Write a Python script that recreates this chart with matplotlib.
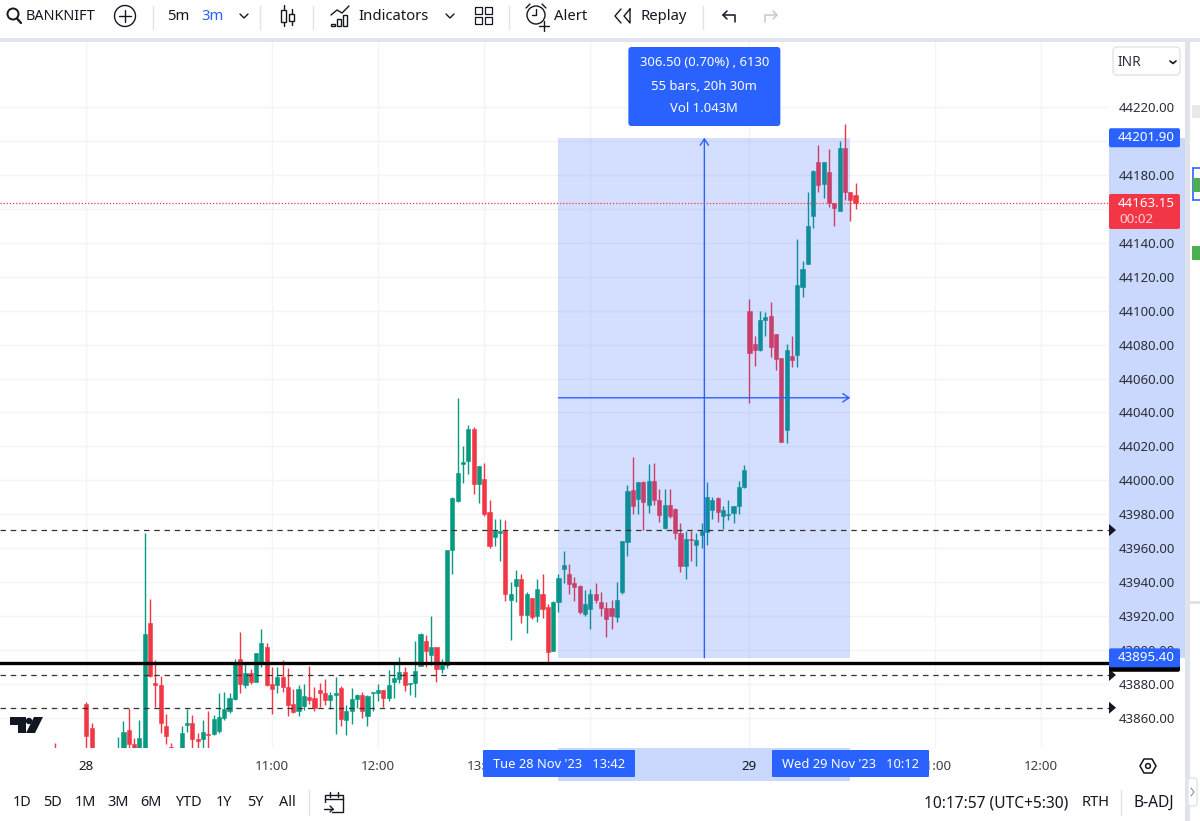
"""TradingView style BANKNIFTY 3m candlestick chart with a price range measure."""
import matplotlib
matplotlib.use('Agg')
import matplotlib.pyplot as plt
from matplotlib.patches import Circle, FancyBboxPatch, Polygon, Rectangle

plt.rcParams['font.family'] = ['Noto Sans', 'DejaVu Sans']

# ------------------------------------------------------------------
#  Data (bar number from the left, prices in INR)
# ------------------------------------------------------------------
bar_index = [0, 6, 7] + list(range(12, 152))

opens = [
    43838, 43868, 43854, 43832, 43836, 43852.8, 43844.6, 43836, 43836, 43915.7,
    43880.3, 43879.5, 43855.2, 43842.8, 43836, 43836, 43856, 43857.3, 43847.7, 43847.3,
    43850.7, 43850.5, 43852.4, 43859.9, 43863.8, 43871, 43895, 43879.5, 43886.2, 43881.3,
    43893.1, 43901.7, 43880, 43879.2, 43883.9, 43878.4, 43868, 43864, 43867.1, 43872.1,
    43871.5, 43876.4, 43874.6, 43870.7, 43873.6, 43877.4, 43858.9, 43863.8, 43871.1, 43873.6,
    43861.2, 43874.6, 43874.8, 43876.4, 43871.9, 43881.3, 43882.9, 43886.8, 43879.9, 43880.3,
    43890.7, 43905.1, 43896.8, 43901.7, 43889, 43891.1, 43958.9, 43988, 44009.8, 44011.4,
    44030, 43998, 44000.7, 43981.1, 43966.6, 43969.1, 43969.9, 43929.2, 43937.9, 43941.6,
    43920.8, 43930.4, 43920.2, 43932.8, 43925.3, 43899.6, 43928.3, 43948, 43945, 43939.3,
    43937.7, 43921.2, 43924.4, 43932.8, 43928.1, 43924.8, 43924.8, 43919.7, 43934.4, 43963.9,
    43994.1, 43988.8, 43999.2, 43985.7, 43999.4, 43988.6, 43971.9, 43985.5, 43983.3, 43969,
    43949.5, 43965.5, 43962.1, 43968, 43969.8, 43982.7, 43989.6, 43979.2, 43979.6, 43981,
    43984.7, 43996.3, 44099.9, 44080.3, 44076.7, 44094.2, 44096.8, 44086.2, 44071.8, 44029.6,
    44073.2, 44073.8, 44113.9, 44127.6, 44155.7, 44187.4, 44174.6, 44181.9, 44163.2, 44158.7,
    44195.8, 44170.1, 44168.1,
]
highs = [
    43845, 43869.3, 43856.8, 43849, 43857.9, 43866, 43847.9, 43858.7, 43968.7, 43930,
    43894, 43884.8, 43862.6, 43845, 43842, 43855, 43865.2, 43861.7, 43850.9, 43858.7,
    43864.2, 43862, 43874.4, 43875, 43874.4, 43895, 43910.4, 43892, 43888.6, 43898.4,
    43912.2, 43903.9, 43890.2, 43890.2, 43893.9, 43889.2, 43877, 43879.3, 43879.9, 43890.7,
    43878.3, 43880.3, 43882.7, 43875, 43884.2, 43879.1, 43867.5, 43877.4, 43874, 43875.4,
    43873.6, 43875.2, 43880.1, 43876.4, 43888.2, 43892.1, 43896, 43890.1, 43880.7, 43905.3,
    43909.8, 43908.8, 43920, 43901.9, 43895, 43958.9, 43989.9, 44048.3, 44020.2, 44032.6,
    44031.2, 44008.4, 44010.4, 43988.4, 43977, 43977, 43976.6, 43939.9, 43947.1, 43945.1,
    43934.3, 43930.4, 43941.6, 43945.1, 43926.9, 43929, 43944.6, 43958.4, 43950.5, 43943,
    43938.1, 43935.2, 43936, 43939.3, 43934, 43928.1, 43929.5, 43940.3, 43964.3, 43997.3,
    44013.6, 43999.2, 43999.8, 44009.7, 44010, 43995.1, 43995.1, 43994.7, 43983.9, 43974.7,
    43970, 43970, 43968.8, 43974.7, 43998.8, 43990.4, 43990, 43984.9, 43988.2, 43984.9,
    43999.4, 44009, 44106.8, 44085, 44099.9, 44099.3, 44105.2, 44086.2, 44071.8, 44080.3,
    44085, 44142, 44129.2, 44170.1, 44182.8, 44197.6, 44187.4, 44195.2, 44163.6, 44199.9,
    44209.8, 44170.1, 44175,
]
lows = [
    43828, 43838, 43832, 43830, 43832, 43841, 43832, 43832, 43832, 43884,
    43866.2, 43851.4, 43844.6, 43832, 43832, 43832, 43851.8, 43841.5, 43838, 43841.5,
    43842, 43849.9, 43851, 43858.7, 43863, 43870.4, 43874.8, 43877.8, 43879.7, 43881,
    43890.2, 43879, 43862.6, 43874.4, 43875.4, 43861.3, 43862.8, 43861, 43864.6, 43868,
    43864.2, 43866.6, 43867.5, 43865.2, 43850.8, 43855.2, 43849.9, 43856.3, 43865.6, 43860.1,
    43855.2, 43864.2, 43870.1, 43866.2, 43870.1, 43871.5, 43880.3, 43875.8, 43873.4, 43872.5,
    43890.5, 43890.1, 43891.1, 43881.3, 43886.2, 43889.7, 43944.8, 43987.4, 43998.6, 44003.7,
    43992.1, 43986.4, 43979, 43959.9, 43961.6, 43952.6, 43929, 43906.2, 43928.4, 43915.7,
    43910.2, 43918.2, 43916.7, 43918.6, 43893.1, 43899.6, 43922.4, 43939.3, 43933, 43928.7,
    43921.2, 43920.1, 43912.2, 43927.5, 43920.1, 43907.9, 43912.6, 43916.5, 43933, 43955.4,
    43980.2, 43980.2, 43970.8, 43981, 43985.5, 43975.5, 43971.1, 43978, 43965.3, 43946,
    43942, 43952.7, 43949.5, 43960.1, 43962.1, 43977, 43975.7, 43971.1, 43976.7, 43975.1,
    43980.4, 43995.7, 44045.7, 44067.5, 44076.3, 44085, 44072.8, 44065, 44022.7, 44022.1,
    44066.9, 44066.9, 44108.2, 44127.6, 44148.5, 44170.1, 44166.1, 44161.2, 44150, 44158.7,
    44165.2, 44152.8, 44160,
]
closes = [
    43832, 43849.3, 43836, 43838, 43851.8, 43844.6, 43836, 43848.1, 43909.4, 43884.7,
    43879.5, 43857.1, 43849.3, 43836, 43838, 43851.4, 43857.3, 43847.7, 43846.3, 43851.8,
    43850.1, 43859.3, 43860.5, 43865.2, 43871.7, 43893, 43880, 43886.2, 43881.1, 43898,
    43904.1, 43879.5, 43877.2, 43883.9, 43878.4, 43867.6, 43863.6, 43877, 43873, 43870.7,
    43865.6, 43874.4, 43870.7, 43873.6, 43874.4, 43859.1, 43863.8, 43870.9, 43873.6, 43864.2,
    43873, 43875.2, 43876.4, 43871.9, 43879.5, 43883.3, 43886.8, 43879.5, 43880.5, 43887.4,
    43909.2, 43899.4, 43901.7, 43889, 43891.1, 43958.9, 43989.5, 44004.5, 44011, 44030,
    43998, 44008.2, 43979.9, 43961.3, 43969.9, 43969.9, 43932.8, 43933.2, 43941.6, 43920.8,
    43932.8, 43919.6, 43935.7, 43923.9, 43899, 43928.4, 43942.5, 43949.9, 43938.9, 43937.2,
    43922.4, 43927, 43932.8, 43929.5, 43924.6, 43918.5, 43920.3, 43929.5, 43964.3, 43993.9,
    43985.1, 43998.8, 43987.3, 43999.8, 43988.4, 43979.8, 43985.5, 43979.2, 43969.2, 43949.5,
    43965.3, 43964.9, 43964.7, 43970, 43990.2, 43988.4, 43981.6, 43982.3, 43980.2, 43984.9,
    43996.1, 44006.1, 44075.2, 44077.1, 44094.4, 44096, 44078.3, 44071.4, 44022.7, 44076.6,
    44071.2, 44115.4, 44124.5, 44150, 44182.4, 44174, 44187.4, 44163.6, 44160.6, 44195.8,
    44169.7, 44165.2, 44163.15,
]

price_ticks = list(range(43860, 44221, 20))
hidden_price_labels = [44160, 44200]  # sit under the last price and measure labels
time_ticks = [6, 41, 61, 81, 101, 131, 166, 186]
time_labels = ['28', '11:00', '12:00', '13:00', '', '29', '11:00', '12:00']

last_price = 44163.15
measure_low = 43895.40
measure_high = 44201.90
measure_start, measure_end = 95, 150
support_line = 43892.2
dashed_levels = [43970.7, 43885.3, 43866.0]

range_buttons = ['1D', '5D', '1M', '3M', '6M', 'YTD', '1Y', '5Y', 'All']
range_positions = [22, 53, 85, 118, 151, 188, 224, 255, 287]

UP = '#089981'
DOWN = '#f23645'
BLUE = '#2962ff'
TEXT = '#131722'
GRID = '#f3f4f6'
BAND = '#e0e3eb'
W, H = 1200, 821

# chart rectangle in pixels and the bar/price scale
LEFT, RIGHT, TOP, BOTTOM = 0, 1109, 42, 748
X0, BAR_PX = 54.5, 5.305
Y220, PRICE_PX = 107, 1.697


def make_axes(fig, zorder):
    a = fig.add_axes([0, 0, 1, 1], zorder=zorder)
    a.set_xlim(0, W)
    a.set_ylim(H, 0)
    a.axis('off')
    return a


def label(a, x, y, s, size=10.7, color=TEXT, ha='center', **kw):
    a.text(x, y, s, fontsize=size, color=color, ha=ha, va='center', **kw)


def box(a, x0, y0, x1, y1, color, r=2, ec='none', lw=0, z=3):
    a.add_patch(FancyBboxPatch((x0 + r, y0 + r), x1 - x0 - 2 * r, y1 - y0 - 2 * r,
                               boxstyle=f'round,pad={r},rounding_size={r}',
                               fc=color, ec=ec, lw=lw, zorder=z))


def stroke(a, xs, ys, color=TEXT, lw=1.0, z=4):
    a.plot(xs, ys, color=color, lw=lw, solid_capstyle='round', zorder=z)


fig = plt.figure(figsize=(W / 100, H / 100), dpi=100, facecolor='white')

# ------------------------------------------------------------------
#  Chart pane
# ------------------------------------------------------------------
ax = fig.add_axes([LEFT / W, 1 - BOTTOM / H, (RIGHT - LEFT) / W, (BOTTOM - TOP) / H], zorder=2)
ax.patch.set_alpha(0)
ax.set_xlim((LEFT - X0) / BAR_PX, (RIGHT - X0) / BAR_PX)
ax.set_ylim(44220 - (BOTTOM - Y220) / PRICE_PX, 44220 + (Y220 - TOP) / PRICE_PX)
for s in ax.spines.values():
    s.set_visible(False)

ax.set_yticks(price_ticks, ['' if p in hidden_price_labels else f'{p:.2f}' for p in price_ticks])
ax.yaxis.tick_right()
ax.tick_params(axis='y', length=0, pad=7, labelsize=9.5, labelcolor='#2a2e39')
ax.set_xticks(time_ticks, time_labels)
ax.tick_params(axis='x', length=0, pad=8.5, labelsize=9.6, labelcolor='#3a3e49')
for t in ax.get_xticklabels():
    if t.get_text() in ('28', '29'):
        t.set_color(TEXT)
        t.set_fontweight('medium')
ax.grid(True, color=GRID, lw=1.0, zorder=0)
ax.set_axisbelow(True)

# candles
for k, o, h, l, c in zip(bar_index, opens, highs, lows, closes):
    col = UP if c >= o else DOWN
    ax.vlines(k, l, h, color=col, lw=1.0, zorder=2)
    ax.bar(k, abs(c - o), bottom=min(o, c), width=0.78, color=col, edgecolor=col, lw=0.4, zorder=3)

# measure tool, sits over the candles and tints them
ax.add_patch(Rectangle((measure_start, measure_low), measure_end - measure_start,
                       measure_high - measure_low, fc=BLUE, alpha=0.2, ec='none', zorder=4))
mid_bar = (measure_start + measure_end) / 2
mid_price = (measure_low + measure_high) / 2
ax.annotate('', xy=(mid_bar, measure_high), xytext=(mid_bar, measure_low), zorder=5,
            arrowprops=dict(arrowstyle='->,head_length=0.45,head_width=0.3', color=BLUE, lw=1.0,
                            shrinkA=0, shrinkB=0))
ax.annotate('', xy=(measure_end, mid_price), xytext=(measure_start, mid_price), zorder=5,
            arrowprops=dict(arrowstyle='->,head_length=0.45,head_width=0.3', color=BLUE, lw=1.0,
                            shrinkA=0, shrinkB=0))

# horizontal levels
ax.axhline(last_price, color=DOWN, lw=0.9, ls=(0, (1, 1.5)), zorder=5)
for lvl in dashed_levels:
    ax.axhline(lvl, color='#333333', lw=0.9, ls=(0, (4.4, 3.8)), zorder=6)
ax.axhline(support_line, color='black', lw=2.4, zorder=7)


def bar_x(k):
    return ax.transData.transform((k, 0))[0]


def price_y(p):
    return H - ax.transData.transform((0, p))[1]


# ------------------------------------------------------------------
#  Background: page bands and highlighted parts of the axes
# ------------------------------------------------------------------
bg = make_axes(fig, 1)
bg.add_patch(Rectangle((0, 38), W, 4, fc=BAND, ec='none'))
bg.add_patch(Rectangle((1185, 38), 5, H, fc=BAND, ec='none'))
bg.add_patch(Rectangle((RIGHT, price_y(measure_high)), 1185 - RIGHT,
                       price_y(measure_low) - price_y(measure_high), fc='#c9d8fc', ec='none'))
bg.add_patch(Rectangle((bar_x(measure_start), BOTTOM), bar_x(measure_end) - bar_x(measure_start),
                       781 - BOTTOM, fc='#c9d8fc', ec='none'))
# strip of the neighbouring panel
bg.add_patch(Rectangle((1192, 105), 8, 13, fc='#e8e8ec', ec='none'))
bg.add_patch(Rectangle((1192.5, 168), 8, 32, fc='white', ec=BLUE, lw=1.2))
bg.add_patch(Rectangle((1193, 178), 7, 14, fc='#4caf50', ec='none'))
bg.add_patch(Rectangle((1192, 246), 8, 14, fc='#4caf50', ec='none'))
bg.add_patch(Rectangle((1190, 601), 10, 3, fc=BAND, ec='none'))

# ------------------------------------------------------------------
#  Overlay: price and time labels, tooltip, toolbars
# ------------------------------------------------------------------
top = make_axes(fig, 3)

y = price_y(measure_high)
box(top, RIGHT, y - 9.5, 1180, y + 9.5, BLUE)
label(top, 1175, y, f'{measure_high:.2f}', 9.6, 'white', ha='right')
y = price_y(last_price)
box(top, RIGHT, y - 9.5, 1180, y + 25.5, DOWN)
label(top, 1175, y, f'{last_price:.2f}', 9.6, 'white', ha='right')
label(top, 1119, y + 16.5, '00:02', 9.6, '#ffd5da', ha='left')
y = price_y(support_line)
box(top, RIGHT, y - 8, 1180, y + 8.5, 'black')
y = price_y(measure_low)
box(top, RIGHT, y - 9.5, 1180, y + 9.5, BLUE)
label(top, 1175, y, f'{measure_low:.2f}', 9.6, 'white', ha='right')
for lvl in dashed_levels:
    y = price_y(lvl)
    top.add_patch(Polygon([(RIGHT, y - 6), (RIGHT + 7, y), (RIGHT, y + 6)], fc=TEXT, ec='none'))

# measure tooltip
mx = bar_x(mid_bar)
box(top, mx - 76, 47, mx + 76, 126, BLUE, r=3)
label(top, mx, 63, '306.50 (0.70%) , 6130', 9.4, 'white')
label(top, mx, 87, '55 bars, 20h 30m', 9.4, 'white')
label(top, mx, 109, 'Vol 1.043M', 9.4, 'white')

# time axis labels of the measure
box(top, 483, 750, 635, 777, BLUE, r=1)
label(top, 559, 765, "Tue 28 Nov '23   13:42", 9.3, 'white')
box(top, 772, 750, 929, 777, BLUE, r=1)
label(top, 850, 765, "Wed 29 Nov '23   10:12", 9.3, 'white')

# currency drop-down
box(top, 1113, 47, 1180, 75, 'white', r=4, ec=BAND, lw=1)
label(top, 1118, 62, 'INR', 9.8, '#2a2e39', ha='left')
stroke(top, [1170, 1173, 1176], [61, 63.5, 61], lw=1.2)

# TradingView mark
top.add_patch(Polygon([(10, 717), (26, 717), (26, 733), (18, 733), (18, 725), (10, 725)], fc=TEXT, ec='none'))
top.add_patch(Circle((29, 721), 3.2, fc=TEXT, ec='none'))
top.add_patch(Polygon([(34, 717), (43, 717), (35, 733), (26, 733)], fc=TEXT, ec='none'))

# hexagon settings icon
top.add_patch(Polygon([(1140, 766), (1144, 759), (1152, 759), (1156, 766), (1152, 773), (1144, 773)],
                      fc='none', ec=TEXT, lw=1.1))
top.add_patch(Circle((1148, 766), 2.4, fc='none', ec=TEXT, lw=1.1))

# top toolbar: separators
for x in (153, 260, 313, 509, 703):
    top.plot([x, x], [6, 29], color=BAND, lw=1)

# symbol search
top.add_patch(Circle((13, 14), 5.5, fc='none', ec=TEXT, lw=1.4))
stroke(top, [17, 21], [18.5, 23], lw=1.6)
sym = top.text(26, 16, 'BANKNIFTY', fontsize=10.4, color=TEXT, ha='left', va='center', fontweight='semibold')
sym.set_clip_path(Rectangle((0, 0), 94.5, H, transform=top.transData))
sym.set_clip_on(True)

# add symbol
top.add_patch(Circle((125, 16), 10.5, fc='none', ec=TEXT, lw=1.0))
stroke(top, [119, 131], [16, 16])
stroke(top, [125, 125], [10, 22])

label(top, 178, 16, '5m')
label(top, 212, 16, '3m', color=BLUE)
stroke(top, [240, 244, 248], [14, 18, 14], lw=1.0)

# candle icon
stroke(top, [283.5, 283.5], [5, 26])
top.add_patch(Rectangle((281, 10), 5, 12, fc='white', ec=TEXT, lw=1.0, zorder=5))
stroke(top, [291.5, 291.5], [9, 25])
top.add_patch(Rectangle((289, 14), 5, 7, fc='white', ec=TEXT, lw=1.0, zorder=5))

# indicators icon
stroke(top, [331, 337, 342, 349], [15, 10, 13, 6])
for bx, by in zip((331, 337, 343), (30 - 6, 30 - 11, 30 - 15)):
    top.add_patch(Rectangle((bx, by), 4, 26 - by, fc='none', ec=TEXT, lw=1.0))
label(top, 358, 16, 'Indicators', ha='left')
stroke(top, [446, 450, 454], [14, 18, 14])

# layouts icon
for cx in (478, 488):
    for cy in (11, 21):
        top.add_patch(Rectangle((cx - 3.5, cy - 3.5), 7, 7, fc='none', ec=TEXT, lw=0.9))

# alert icon
top.add_patch(Circle((536, 15), 9, fc='none', ec=TEXT, lw=1.0))
stroke(top, [536, 536, 532], [9, 15, 15])
stroke(top, [526, 530], [8, 4])
stroke(top, [542, 546], [4, 8])
stroke(top, [544, 544], [21, 31])
stroke(top, [539, 549], [26, 26])
label(top, 554, 16, 'Alert', ha='left')

# replay icon
stroke(top, [621, 615, 621], [9, 16, 23])
stroke(top, [630, 624, 630, 630], [9, 16, 23, 9])
label(top, 640, 16, 'Replay', ha='left')

# undo, redo
stroke(top, [735, 735, 723], [22, 15, 15], lw=1.1)
stroke(top, [727, 723, 727], [11, 15, 19], lw=1.1)
stroke(top, [765, 765, 777], [22, 15, 15], color='#c4c8d0', lw=1.1)
stroke(top, [773, 777, 773], [11, 15, 19], color='#c4c8d0', lw=1.1)

# bottom toolbar
for name, x in zip(range_buttons, range_positions):
    label(top, x, 802, name, 10.4)
top.plot([309, 309], [790, 815], color=BAND, lw=1)
top.add_patch(Rectangle((325, 795), 18, 17, fc='none', ec=TEXT, lw=1.0))
top.add_patch(Rectangle((323, 803), 9, 11, fc='white', ec='none', zorder=3))
stroke(top, [325, 343], [799, 799])
stroke(top, [330, 330], [792, 797])
stroke(top, [338, 338], [792, 797])
stroke(top, [324, 333], [809, 809])
stroke(top, [330, 333, 330], [806, 809, 812])

label(top, 1068, 803, '10:17:57 (UTC+5:30)', 11.2, ha='right')
label(top, 1095.5, 803, 'RTH', 10.6)
top.plot([1121, 1121], [790, 815], color=BAND, lw=1)
label(top, 1153.5, 803, 'B-ADJ', 11.2)

# side panel handle
box(top, 1188, 778, 1197, 806, 'white', r=3, ec=BAND, lw=1)
stroke(top, [1191, 1194, 1191], [788, 792, 796], color='#9598a1', lw=0.9)

fig.savefig('out.png', dpi=100)
